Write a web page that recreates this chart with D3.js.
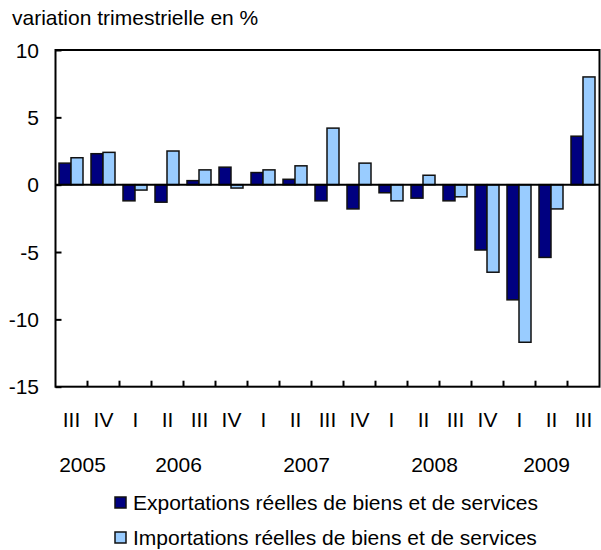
<!DOCTYPE html>
<html>
<head>
<meta charset="utf-8">
<script src="https://cdn.jsdelivr.net/npm/d3@7"></script>
<style>
  body { margin: 0; background: #fff; }
  svg text { font-family: "Liberation Sans", Arial, sans-serif; fill: #000; }
</style>
</head>
<body>
<div id="chart"></div>
<script>
/* Real exports and imports, quarterly change */

const quarters = ["III", "IV", "I", "II", "III", "IV", "I", "II", "III", "IV", "I", "II", "III", "IV", "I", "II", "III"];
const years = ["2005", "2005", "2006", "2006", "2006", "2006", "2007", "2007", "2007", "2007",
               "2008", "2008", "2008", "2008", "2009", "2009", "2009"];
const exportsPct = [1.6, 2.3, -1.2, -1.3, 0.3, 1.3, 0.9, 0.4, -1.2, -1.8, -0.6, -1.0, -1.2, -4.85, -8.55, -5.4, 3.6];
const importsPct = [2.0, 2.4, -0.4, 2.5, 1.1, -0.25, 1.1, 1.4, 4.2, 1.6, -1.2, 0.7, -0.9, -6.5, -11.7, -1.8, 8.0];
const seriesNames = ["Exportations réelles de biens et de services", "Importations réelles de biens et de services"];
const seriesColors = ["#000080", "#99ccff"];
const yTicks = [10, 5, 0, -5, -10, -15];

const width = 601, height = 550;
const margin = { top: 50, right: 1.5, bottom: 163.3, left: 55.5 };
const fontSize = 21;

const svg = d3.select("#chart")
  .append("svg")
  .attr("width", width)
  .attr("height", height);

const idx = quarters.map((q, i) => i);

const x = d3.scaleBand()
  .domain(idx)
  .range([margin.left, width - margin.right])
  .padding(0);

const x1 = d3.scaleBand()
  .domain([0, 1])
  .range([3.5, x.bandwidth() - 4.5]);

const y = d3.scaleLinear()
  .domain([-15, 10])
  .range([height - margin.bottom, margin.top]);

// Title
svg.append("text")
  .attr("x", 12)
  .attr("y", 25)
  .attr("font-size", fontSize)
  .text("variation trimestrielle en %");

// Bars
const groups = svg.append("g")
  .selectAll("g")
  .data(idx)
  .join("g")
  .attr("transform", i => `translate(${x(i)},0)`);

groups.selectAll("rect")
  .data(i => [exportsPct[i], importsPct[i]].map((v, s) => ({ v, s })))
  .join("rect")
  .attr("x", d => x1(d.s))
  .attr("y", d => y(Math.max(0, d.v)))
  .attr("width", x1.bandwidth())
  .attr("height", d => Math.abs(y(d.v) - y(0)))
  .attr("fill", d => seriesColors[d.s])
  .attr("stroke", "#111")
  .attr("stroke-width", 1.5);

// Zero line
svg.append("line")
  .attr("x1", margin.left)
  .attr("x2", width - margin.right)
  .attr("y1", y(0))
  .attr("y2", y(0))
  .attr("stroke", "#000")
  .attr("stroke-width", 2);

// Y axis (ticks pointing inward)
svg.append("g")
  .attr("transform", `translate(${margin.left},0)`)
  .call(d3.axisRight(y).tickValues(yTicks).tickSize(6).tickFormat(""))
  .call(g => g.select(".domain").remove())
  .call(g => g.selectAll("line").attr("stroke", "#000").attr("stroke-width", 2));

svg.append("g")
  .selectAll("text")
  .data(yTicks)
  .join("text")
  .attr("x", 39)
  .attr("y", d => y(d) + 7.5)
  .attr("text-anchor", "end")
  .attr("font-size", fontSize)
  .text(d => d);

// X axis ticks (inward, at category boundaries)
const boundaries = idx.slice(1).map(i => x(i));
svg.append("g")
  .selectAll("line")
  .data(boundaries)
  .join("line")
  .attr("x1", d => d)
  .attr("x2", d => d)
  .attr("y1", y(-15))
  .attr("y2", y(-15) - 6)
  .attr("stroke", "#000")
  .attr("stroke-width", 2);

// Plot frame
svg.append("rect")
  .attr("x", margin.left)
  .attr("y", margin.top)
  .attr("width", width - margin.right - margin.left)
  .attr("height", y(-15) - margin.top)
  .attr("fill", "none")
  .attr("stroke", "#000")
  .attr("stroke-width", 2);

// Quarter labels
svg.append("g")
  .selectAll("text")
  .data(idx)
  .join("text")
  .attr("x", i => x(i) + x.bandwidth() / 2)
  .attr("y", 427)
  .attr("text-anchor", "middle")
  .attr("font-size", fontSize)
  .text(i => quarters[i]);

// Year labels, centred under their quarters
const yearGroups = d3.groups(idx, i => years[i]);
svg.append("g")
  .selectAll("text")
  .data(yearGroups)
  .join("text")
  .attr("x", d => (x(d[1][0]) + x(d[1][d[1].length - 1]) + x.bandwidth()) / 2 - 5)
  .attr("y", 471.5)
  .attr("text-anchor", "middle")
  .attr("font-size", fontSize)
  .text(d => d[0]);

// Legend
const legend = svg.append("g")
  .selectAll("g")
  .data(seriesNames)
  .join("g")
  .attr("transform", (d, i) => `translate(115, ${497 + i * 35})`);

legend.append("rect")
  .attr("width", 11)
  .attr("height", 11)
  .attr("fill", (d, i) => seriesColors[i])
  .attr("stroke", "#111")
  .attr("stroke-width", 1.5);

legend.append("text")
  .attr("x", 18)
  .attr("y", 13)
  .attr("font-size", fontSize)
  .text(d => d);
</script>
</body>
</html>
